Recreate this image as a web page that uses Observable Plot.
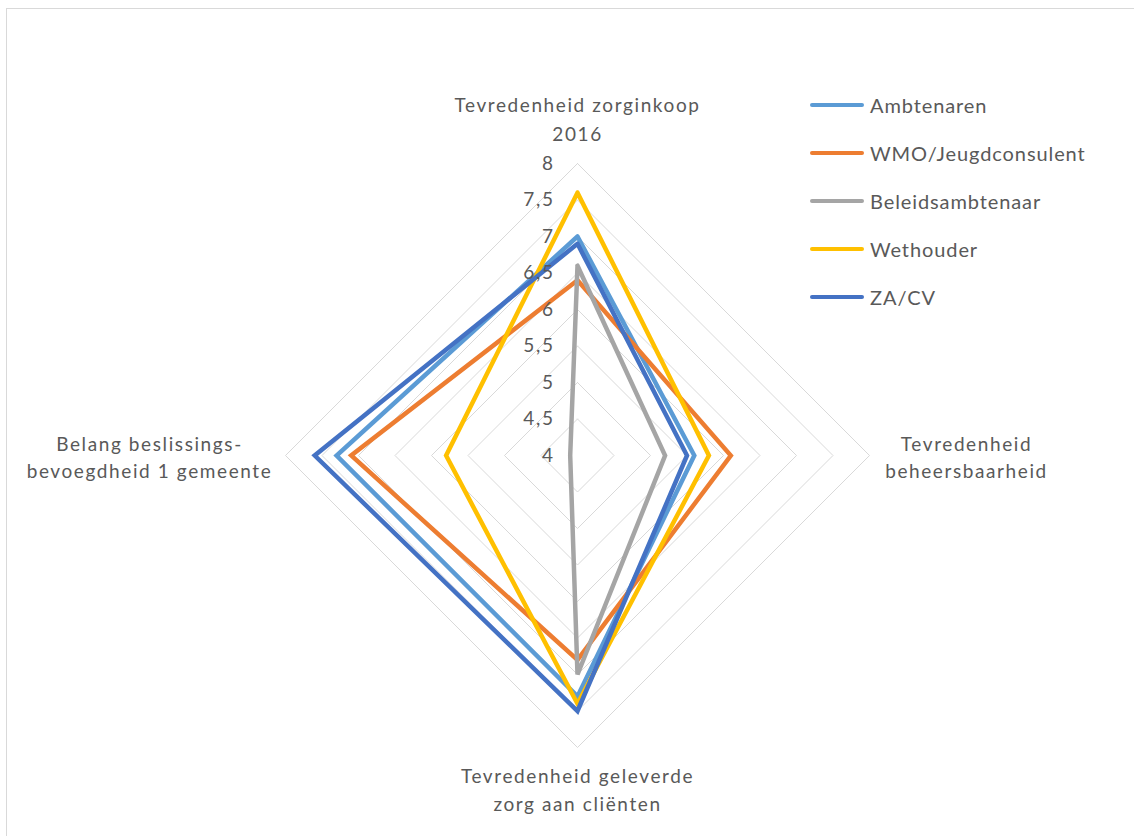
<!DOCTYPE html>
<html><head><meta charset="utf-8">
<script src="https://cdn.jsdelivr.net/npm/d3@7"></script>
<script src="https://cdn.jsdelivr.net/npm/@observablehq/plot@0.6"></script>
<style>
body{margin:0;background:#fff;}
#wrap{position:relative;width:1134px;height:836px;overflow:hidden;font-family:Lato,"Open Sans",sans-serif;}
#border{position:absolute;left:6px;top:8px;width:1300px;height:1000px;border:1px solid #d9d9d9;box-sizing:border-box;}
#chart{position:absolute;left:0;top:0;}
#chart svg text{letter-spacing:1.6px;}
#legend{position:absolute;left:0;top:0;}
.item{position:absolute;display:flex;align-items:center;font-size:20px;letter-spacing:0.9px;color:#595959;white-space:nowrap;}
.sw{width:54px;height:4px;border-radius:2px;margin-right:6px;}
</style></head>
<body><div id="wrap"><div id="border"></div><div id="chart"></div><div id="legend"></div></div>
<script>
const axes = ["Tevredenheid zorginkoop\n2016", "Tevredenheid\nbeheersbaarheid", "Tevredenheid geleverde\nzorg aan cliënten", "Belang beslissings-\nbevoegdheid 1 gemeente"];
const series = ["Ambtenaren", "WMO/Jeugdconsulent", "Beleidsambtenaar", "Wethouder", "ZA/CV"];
const colors = ["#5B9BD5", "#ED7D31", "#A5A5A5", "#FFC000", "#4472C4"];
const ambtenaren = [7.0, 5.6, 7.3, 7.3];
const wmoJeugd = [6.4, 6.1, 6.8, 7.1];
const beleidsambtenaar = [6.6, 5.2, 7.0, 4.1];
const wethouder = [7.6, 5.8, 7.4, 5.8];
const zacv = [6.9, 5.5, 7.5, 7.6];
const ticks = [4, 4.5, 5, 5.5, 6, 6.5, 7, 7.5, 8];
const tickLabels = ["4", "4,5", "5", "5,5", "6", "6,5", "7", "7,5", "8"];

const values = [ambtenaren, wmoJeugd, beleidsambtenaar, wethouder, zacv];
const vMin = 4, vMax = 8;
const ang = i => i * Math.PI / 2;
const px = (i, v) => Math.sin(ang(i)) * (v - vMin);
const py = (i, v) => Math.cos(ang(i)) * (v - vMin);

const seriesPts = [];
series.forEach((s, k) => {
  [0, 1, 2, 3, 0].forEach((i, j) => seriesPts.push({s, x: px(i, values[k][i]), y: py(i, values[k][i]), j}));
});
const gridPts = [];
ticks.filter(t => t > vMin).forEach(t => {
  [0, 1, 2, 3, 0].forEach(i => gridPts.push({t, x: px(i, t), y: py(i, t)}));
});
const labelPts = axes.map((a, i) => ({a, i, x: px(i, vMax), y: py(i, vMax)}));
const tickPts = ticks.map((t, i) => ({t, label: tickLabels[i]}));

const R = 292, cx = 577, cy = 455;
const fnt = "Lato, 'Open Sans', sans-serif";
const chart = Plot.plot({
  width: 1134, height: 836,
  margin: 0,
  style: {background: "transparent", fontFamily: fnt, color: "#595959"},
  x: {domain: [-4, 4], range: [cx - R, cx + R], axis: null},
  y: {domain: [-4, 4], range: [cy + R, cy - R], axis: null},
  color: {domain: series, range: colors},
  marks: [
    Plot.line(gridPts, {x: "x", y: "y", z: "t", stroke: "#d9d9d9", strokeWidth: 1}),
    Plot.line(seriesPts, {x: "x", y: "y", z: "s", stroke: "s", strokeWidth: 4.5, strokeLinejoin: "miter", strokeMiterlimit: 3}),
    Plot.text(tickPts, {x: d => 0, y: d => d.t - vMin, text: "label", textAnchor: "end", dx: -23, fontSize: 19, fill: "#595959"}),
    Plot.text(labelPts.filter(d => d.i === 0), {x: "x", y: "y", text: "a", lineAnchor: "bottom", dy: -23, fontSize: 19, lineHeight: 1.48, fill: "#595959"}),
    Plot.text(labelPts.filter(d => d.i === 1), {x: "x", y: "y", text: "a", lineAnchor: "middle", dx: 97, fontSize: 19, lineHeight: 1.45, fill: "#595959"}),
    Plot.text(labelPts.filter(d => d.i === 2), {x: "x", y: "y", text: "a", lineAnchor: "top", dy: 16, fontSize: 19, lineHeight: 1.45, fill: "#595959"}),
    Plot.text(labelPts.filter(d => d.i === 3), {x: "x", y: "y", text: "a", lineAnchor: "middle", dx: -136, fontSize: 19, lineHeight: 1.45, fill: "#595959"})
  ]
});
document.getElementById("chart").appendChild(chart);

const legend = document.getElementById("legend");
series.forEach((s, k) => {
  const it = document.createElement("div");
  it.className = "item";
  it.style.left = "810px";
  it.style.top = (105 + k * 48 - 12) + "px";
  it.style.height = "24px";
  it.innerHTML = `<span class="sw" style="background:${colors[k]}"></span><span>${s}</span>`;
  legend.appendChild(it);
});
</script>
</body></html>
